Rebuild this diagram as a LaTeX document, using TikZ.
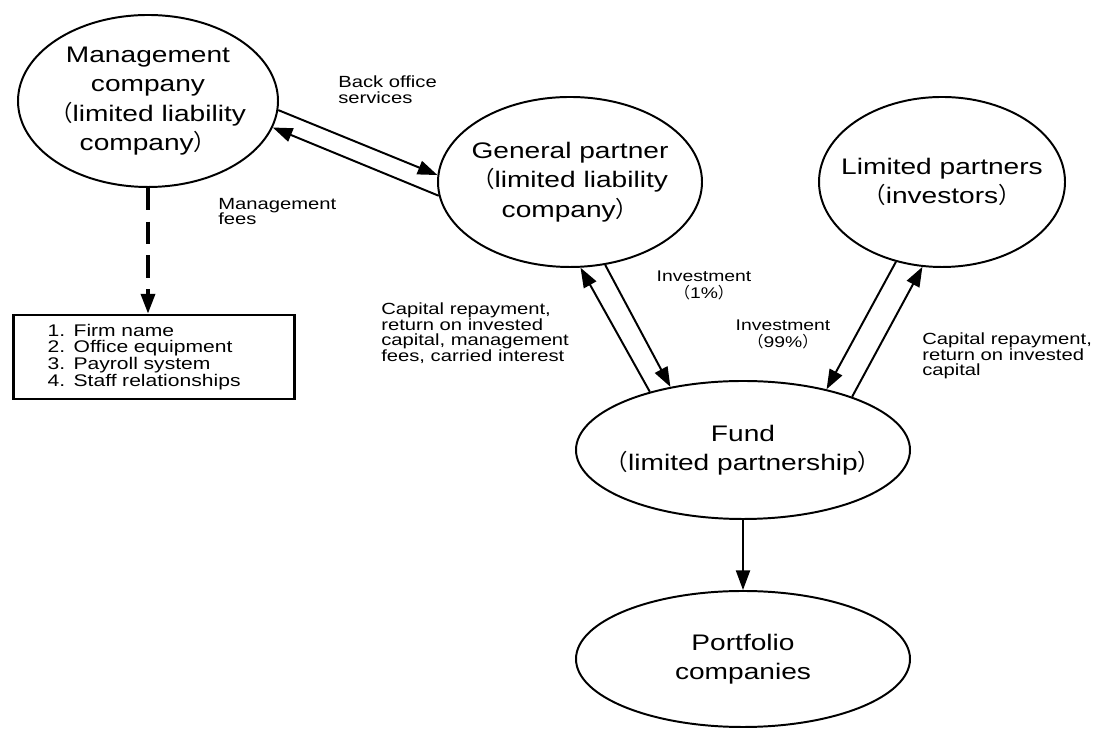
\documentclass[tikz,border=0pt]{standalone}
\usepackage{fontspec}
\setmainfont{Liberation Sans}[FakeStretch=1.25]
\newfontfamily\cjk{Noto Sans CJK SC}
\usepackage{tikz}
\usetikzlibrary{shapes.geometric, arrows.meta}

\newcommand{\opar}{{\cjk （}}
\newcommand{\cpar}{{\cjk ）}}

\tikzset{
  party/.style={ellipse, draw, line width=1.4pt, inner xsep=-1cm, inner ysep=0pt, align=center, font=\fontsize{16}{21}\selectfont},
  flow/.style={-{Triangle[length=14pt,width=10pt]}, line width=1.4pt},
  note/.style={inner sep=0pt, align=left, font=\fontsize{11.5}{11}\selectfont},
}

\begin{document}
\begin{tikzpicture}

\useasboundingbox (0,0) rectangle (27.4,18.225);

%management company
\node[party, minimum width=6.5cm, minimum height=4.3cm] (mgmt) at (3.7,15.7) {Management\\company\\\opar limited liability\\company\cpar};

%general partner
\node[party, minimum width=6.6cm, minimum height=4.25cm] (gp) at (14.25,13.675) {General partner\\\opar limited liability\\company\cpar};

%limited partners
\node[party, minimum width=6.15cm, minimum height=4.25cm] (lp) at (23.55,13.675) {Limited partners\\\opar investors\cpar};

%fund
\node[party, minimum width=8.35cm, minimum height=3.45cm] (fund) at (18.575,6.975) {Fund\\\opar limited partnership\cpar};

%portfolio
\node[party, minimum width=8.35cm, minimum height=3.4cm] (port) at (18.575,1.75) {Portfolio\\companies};

%what the management company holds
\node[draw, line width=2pt, minimum width=7.025cm, minimum height=2.1cm, inner xsep=0.85cm, text width=5.3cm, align=left, font=\fontsize{12}{12}\selectfont] (assets) at (3.84,9.3) {1. Firm name\\2. Office equipment\\3. Payroll system\\4. Staff relationships};

\draw[flow, line width=2.3pt, dash pattern=on 16pt off 8pt] (mgmt.south) -- (mgmt.south |- assets.north);

%management company and general partner
\draw[flow] (mgmt.-4) -- (gp.177);
\draw[flow] (gp.186) -- (mgmt.-12);

\node[note, anchor=north west] (services) at (8.45,16.325) {Back office\\services};
\node[note, anchor=north west] (mfees) at (5.45,13.275) {Management\\fees};

%general partner and fund
\draw[flow] (gp.-67) -- (fund.139);
\draw[flow] (fund.148) -- (gp.-83);

\node[note, align=center, font=\fontsize{11}{12}\selectfont] (inv1) at (17.6,11.1) {Investment\\\opar 1\%\cpar};
\node[note, anchor=north west] (gpback) at (9.525,10.65) {Capital repayment,\\return on invested\\capital, management\\fees, carried interest};

%limited partners and fund
\draw[flow] (lp.240) -- (fund.36);
\draw[flow] (fund.26) -- (lp.257);

\node[note, align=center, font=\fontsize{11}{12}\selectfont] (inv99) at (19.575,9.875) {Investment\\\opar 99\%\cpar};
\node[note, anchor=north west] (lpback) at (23.05,9.9) {Capital repayment,\\return on invested\\capital};

%fund and portfolio
\draw[flow] (fund) -- (port);

\end{tikzpicture}
\end{document}
